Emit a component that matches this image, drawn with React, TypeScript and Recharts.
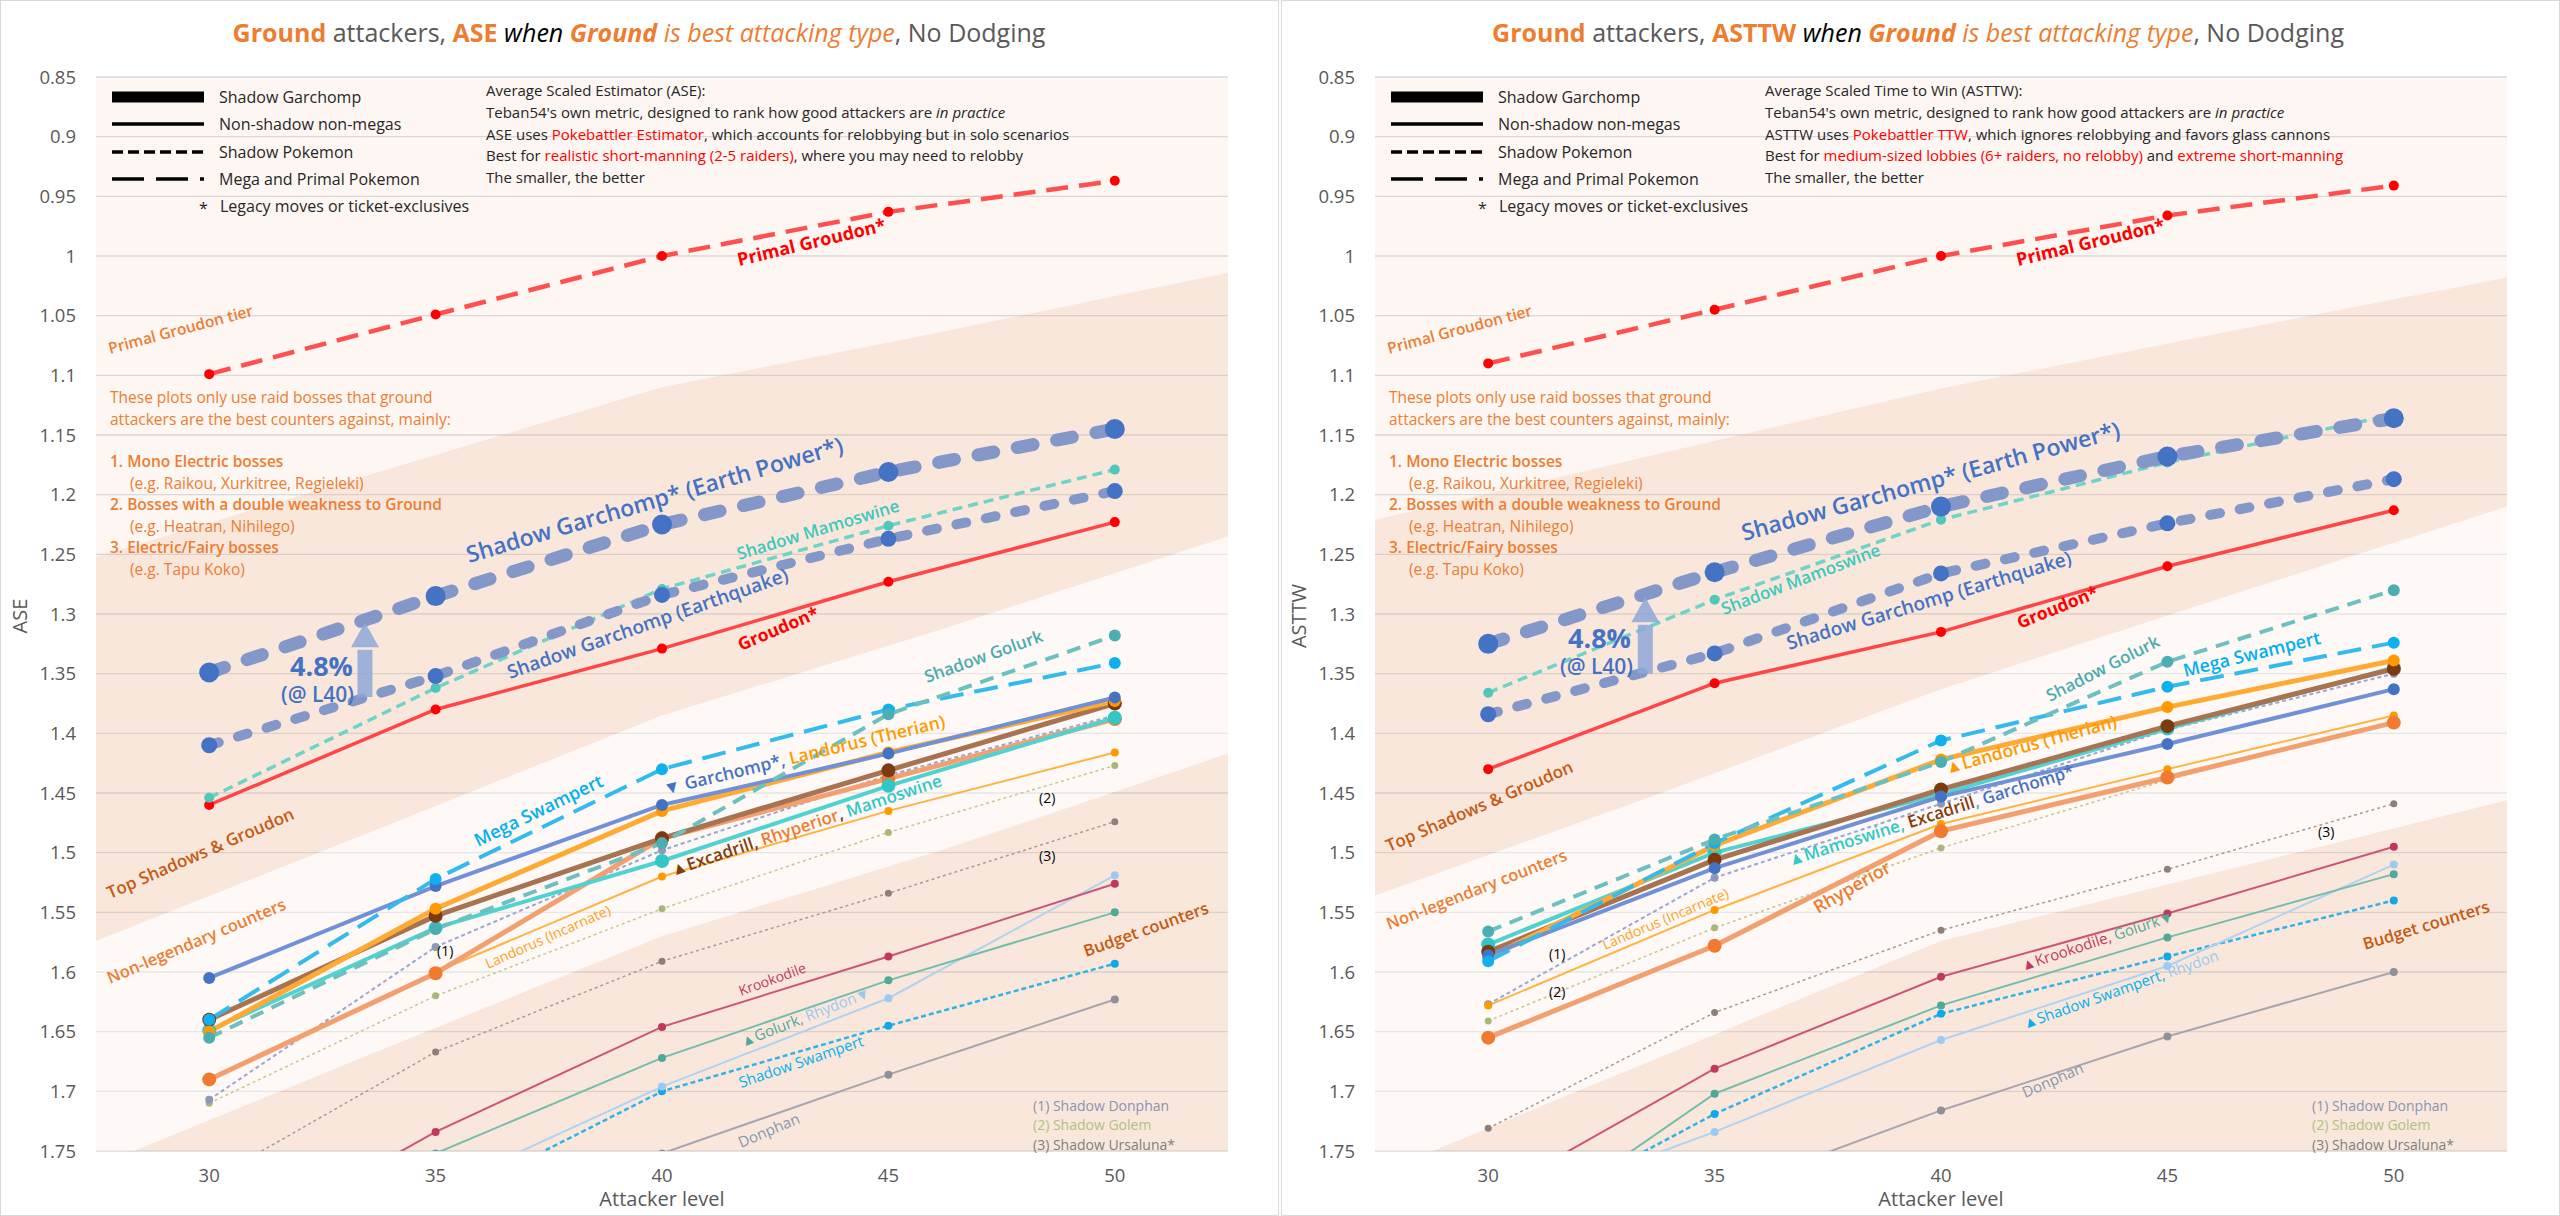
import React from 'react';
import {
  Area,
  CartesianGrid,
  ComposedChart,
  Line,
  ReferenceDot,
  ReferenceLine,
  XAxis,
  YAxis,
} from 'recharts';

const levels = [30, 35, 40, 45, 50];
const yTicks = [0.85, 0.9, 0.95, 1, 1.05, 1.1, 1.15, 1.2, 1.25, 1.3, 1.35, 1.4, 1.45, 1.5, 1.55, 1.6, 1.65, 1.7, 1.75];
// tier shading is drawn edge to edge of the plot
const bandLevels = [27.5, 33.75, 40, 46.25, 52.5];

// ASE (left chart)
const asePrimalGroudon = [1.099, 1.049, 1.0, 0.963, 0.937];
const aseSgEarthPower = [1.349, 1.285, 1.225, 1.181, 1.145];
const aseSgEarthquake = [1.41, 1.352, 1.284, 1.237, 1.197];
const aseShadowMamoswine = [1.454, 1.362, 1.279, 1.226, 1.179];
const aseGroudon = [1.46, 1.38, 1.329, 1.273, 1.223];
const aseShadowGolurk = [1.655, 1.564, 1.492, 1.384, 1.318];
const aseMegaSwampert = [1.64, 1.522, 1.43, 1.38, 1.341];
const aseGarchomp = [1.605, 1.528, 1.46, 1.417, 1.37];
const aseLandorusT = [1.65, 1.547, 1.465, 1.416, 1.373];
const aseExcadrill = [1.64, 1.553, 1.488, 1.431, 1.375];
const aseRhyperior = [1.69, 1.601, 1.488, 1.438, 1.388];
const aseMamoswine = [1.649, 1.563, 1.507, 1.444, 1.387];
const aseLandorusI = [1.691, 1.6, 1.52, 1.465, 1.416];
const aseShadowDonphan = [1.707, 1.579, 1.498, 1.435, 1.385];
const aseShadowGolem = [1.71, 1.62, 1.547, 1.483, 1.427];
const aseShadowUrsaluna = [1.775, 1.667, 1.591, 1.534, 1.474];
const aseKrookodile = [1.84, 1.734, 1.646, 1.587, 1.526];
const aseGolurk = [1.83, 1.752, 1.672, 1.607, 1.55];
const aseRhydon = [1.87, 1.783, 1.696, 1.622, 1.519];
const aseShadowSwampert = [1.89, 1.796, 1.7, 1.645, 1.593];
const aseDonphan = [1.91, 1.83, 1.752, 1.686, 1.623];
const aseTierTop = [1.252, 1.181, 1.11, 1.063, 1.014];
const aseTierMid = [1.574, 1.48, 1.385, 1.312, 1.235];
const aseTierLow = [1.763, 1.666, 1.57, 1.497, 1.417];

// ASTTW (right chart)
const asttwPrimalGroudon = [1.09, 1.045, 1.0, 0.966, 0.941];
const asttwSgEarthPower = [1.325, 1.265, 1.21, 1.168, 1.136];
const asttwSgEarthquake = [1.384, 1.333, 1.266, 1.224, 1.187];
const asttwShadowMamoswine = [1.366, 1.288, 1.221, 1.173, 1.133];
const asttwGroudon = [1.43, 1.358, 1.315, 1.26, 1.213];
const asttwShadowGolurk = [1.566, 1.489, 1.424, 1.34, 1.28];
const asttwMegaSwampert = [1.591, 1.492, 1.406, 1.361, 1.324];
const asttwGarchomp = [1.586, 1.513, 1.453, 1.409, 1.363];
const asttwLandorusT = [1.588, 1.494, 1.422, 1.378, 1.339];
const asttwExcadrill = [1.583, 1.506, 1.447, 1.394, 1.346];
const asttwRhyperior = [1.655, 1.578, 1.482, 1.437, 1.391];
const asttwMamoswine = [1.577, 1.5, 1.451, 1.396, 1.345];
const asttwLandorusI = [1.628, 1.548, 1.476, 1.43, 1.385];
const asttwShadowDonphan = [1.627, 1.521, 1.459, 1.397, 1.35];
const asttwShadowGolem = [1.641, 1.563, 1.496, 1.439, 1.39];
const asttwShadowUrsaluna = [1.731, 1.634, 1.565, 1.514, 1.459];
const asttwKrookodile = [1.788, 1.681, 1.604, 1.551, 1.495];
const asttwGolurk = [1.833, 1.702, 1.628, 1.571, 1.518];
const asttwRhydon = [1.804, 1.734, 1.657, 1.595, 1.51];
const asttwShadowSwampert = [1.82, 1.719, 1.635, 1.587, 1.54];
const asttwDonphan = [1.855, 1.786, 1.716, 1.654, 1.6];
const asttwTierTop = [1.221, 1.166, 1.111, 1.064, 1.018];
const asttwTierMid = [1.536, 1.451, 1.363, 1.286, 1.21];
const asttwTierLow = [1.77, 1.672, 1.574, 1.515, 1.456];

type Look = { stroke: string; dot: string; width: number; r: number; dash?: string; round?: boolean };

const LOOKS: Record<string, Look> = {
  donphan: { stroke: '#a6a6ae', dot: '#909098', width: 2, r: 4 },
  shadowSwampert: { stroke: '#2fb3ea', dot: '#10a8e8', width: 2.5, r: 4, dash: '5 3' },
  rhydon: { stroke: '#b0d2f2', dot: '#9ccaf2', width: 2, r: 4 },
  golurk: { stroke: '#74bdaa', dot: '#50a898', width: 2, r: 4 },
  krookodile: { stroke: '#cc5577', dot: '#c0385c', width: 2, r: 4 },
  shadowUrsaluna: { stroke: '#a89c92', dot: '#8c8078', width: 1.5, r: 3.5, dash: '3 3' },
  shadowGolem: { stroke: '#c5c88e', dot: '#a9b878', width: 1.5, r: 3.5, dash: '3 3' },
  shadowDonphan: { stroke: '#9aa6d4', dot: '#8c98b8', width: 2, r: 4, dash: '4 3' },
  landorusI: { stroke: '#ffb340', dot: '#ff9900', width: 2, r: 4 },
  rhyperior: { stroke: '#f3a070', dot: '#f07b30', width: 5, r: 7 },
  mamoswine: { stroke: '#50d2d0', dot: '#33c6c6', width: 4, r: 7 },
  excadrill: { stroke: '#a87350', dot: '#7b3a10', width: 5, r: 7 },
  landorusT: { stroke: '#ffaa33', dot: '#ff9900', width: 5, r: 6 },
  garchomp: { stroke: '#7090d8', dot: '#4472c4', width: 4, r: 6 },
  megaSwampert: { stroke: '#33bbee', dot: '#0fb0f0', width: 4, r: 6, dash: '24 11' },
  shadowGolurk: { stroke: '#6cc0c0', dot: '#4aaeb3', width: 4, r: 6, dash: '14 9' },
  groudon: { stroke: '#ff4545', dot: '#ff0000', width: 3.5, r: 5 },
  shadowMamoswine: { stroke: '#6fd3c6', dot: '#4fc8bb', width: 3.5, r: 5, dash: '10 6' },
  sgEarthquake: { stroke: '#8497c9', dot: '#4472c4', width: 10, r: 8, dash: '10 20', round: true },
  sgEarthPower: { stroke: '#8497c9', dot: '#4472c4', width: 13, r: 10, dash: '16 24', round: true },
  primalGroudon: { stroke: '#ff5050', dot: '#ff0000', width: 4.5, r: 5, dash: '22 11' },
};

const DRAW_ORDER = [
  'donphan', 'shadowSwampert', 'rhydon', 'golurk', 'krookodile', 'shadowUrsaluna', 'shadowGolem',
  'shadowDonphan', 'landorusI', 'rhyperior', 'mamoswine', 'excadrill', 'landorusT', 'garchomp',
  'megaSwampert', 'shadowGolurk', 'groudon', 'shadowMamoswine', 'sgEarthquake', 'sgEarthPower', 'primalGroudon',
];

const aseSeries: Record<string, number[]> = {
  primalGroudon: asePrimalGroudon, sgEarthPower: aseSgEarthPower, sgEarthquake: aseSgEarthquake,
  shadowMamoswine: aseShadowMamoswine, groudon: aseGroudon, shadowGolurk: aseShadowGolurk,
  megaSwampert: aseMegaSwampert, garchomp: aseGarchomp, landorusT: aseLandorusT, excadrill: aseExcadrill,
  rhyperior: aseRhyperior, mamoswine: aseMamoswine, landorusI: aseLandorusI, shadowDonphan: aseShadowDonphan,
  shadowGolem: aseShadowGolem, shadowUrsaluna: aseShadowUrsaluna, krookodile: aseKrookodile,
  golurk: aseGolurk, rhydon: aseRhydon, shadowSwampert: aseShadowSwampert, donphan: aseDonphan,
};

const asttwSeries: Record<string, number[]> = {
  primalGroudon: asttwPrimalGroudon, sgEarthPower: asttwSgEarthPower, sgEarthquake: asttwSgEarthquake,
  shadowMamoswine: asttwShadowMamoswine, groudon: asttwGroudon, shadowGolurk: asttwShadowGolurk,
  megaSwampert: asttwMegaSwampert, garchomp: asttwGarchomp, landorusT: asttwLandorusT, excadrill: asttwExcadrill,
  rhyperior: asttwRhyperior, mamoswine: asttwMamoswine, landorusI: asttwLandorusI, shadowDonphan: asttwShadowDonphan,
  shadowGolem: asttwShadowGolem, shadowUrsaluna: asttwShadowUrsaluna, krookodile: asttwKrookodile,
  golurk: asttwGolurk, rhydon: asttwRhydon, shadowSwampert: asttwShadowSwampert, donphan: asttwDonphan,
};

const FONT = "'Open Sans', 'Noto Sans', sans-serif";
const ORANGE = '#ed7d31';
const DARK_ORANGE = '#c55a11';
const BLUE = '#4472c4';

const W = 1278;
const H = 1214;

function Rot({ x, y, a, size, color, weight = 400, children }: any) {
  return (
    <text
      x={x}
      y={y}
      transform={`rotate(${a} ${x} ${y})`}
      fontSize={size}
      fill={color}
      fontWeight={weight}
      style={{ whiteSpace: 'pre' }}
    >
      {children}
    </text>
  );
}

function arrowHead(props: any) {
  const { cx, cy } = props;
  return <polygon points={`${cx},${cy} ${cx - 14},${cy + 25} ${cx + 14},${cy + 25}`} fill="#8ea6d8" fillOpacity={0.85} />;
}

function Legend() {
  return (
    <g>
      <line x1={112} x2={204} y1={97} y2={97} stroke="#000" strokeWidth={11} />
      <line x1={112} x2={204} y1={124} y2={124} stroke="#000" strokeWidth={3.5} />
      <line x1={112} x2={204} y1={152} y2={152} stroke="#000" strokeWidth={3.5} strokeDasharray="11 5" />
      <line x1={112} x2={204} y1={179} y2={179} stroke="#000" strokeWidth={3.5} strokeDasharray="32 12" />
      <g fontSize={16} fill="#262626">
        <text x={219} y={103}>Shadow Garchomp</text>
        <text x={219} y={130}>Non-shadow non-megas</text>
        <text x={219} y={158}>Shadow Pokemon</text>
        <text x={219} y={185}>Mega and Primal Pokemon</text>
        <text x={199} y={214}>*</text>
        <text x={220} y={212}>Legacy moves or ticket-exclusives</text>
      </g>
    </g>
  );
}

function BossNotes() {
  return (
    <g fontSize={15.5} fill={ORANGE}>
      <text x={110} y={403}>These plots only use raid bosses that ground</text>
      <text x={110} y={425}>attackers are the best counters against, mainly:</text>
      <text x={110} y={467} fontWeight={600}>1. Mono Electric bosses</text>
      <text x={130} y={489}>(e.g. Raikou, Xurkitree, Regieleki)</text>
      <text x={110} y={510} fontWeight={600}>2. Bosses with a double weakness to Ground</text>
      <text x={130} y={532}>(e.g. Heatran, Nihilego)</text>
      <text x={110} y={553} fontWeight={600}>3. Electric/Fairy bosses</text>
      <text x={130} y={575}>(e.g. Tapu Koko)</text>
    </g>
  );
}

function Footnotes() {
  return (
    <g fontSize={14}>
      <text x={1033} y={1111} fill="#8497b0">(1) Shadow Donphan</text>
      <text x={1033} y={1130} fill="#a9c47f">(2) Shadow Golem</text>
      <text x={1033} y={1150} fill="#7f7f7f">(3) Shadow Ursaluna*</text>
    </g>
  );
}

function Title({ metric }: { metric: string }) {
  return (
    <text x={639} y={42} textAnchor="middle" fontSize={25} style={{ whiteSpace: 'pre' }}>
      <tspan fill={ORANGE} fontWeight={700}>Ground</tspan>
      <tspan fill="#595959">{' attackers, '}</tspan>
      <tspan fill={ORANGE} fontWeight={700}>{metric}</tspan>
      <tspan fill="#000" fontStyle="italic">{' when '}</tspan>
      <tspan fill={ORANGE} fontStyle="italic" fontWeight={700}>Ground</tspan>
      <tspan fill={ORANGE} fontStyle="italic">{' is best attacking type'}</tspan>
      <tspan fill="#595959">{', No Dodging'}</tspan>
    </text>
  );
}

function AseAnnotations() {
  return (
    <g>
      <Title metric="ASE" />
      <g fontSize={15} fill="#262626" style={{ whiteSpace: 'pre' }}>
        <text x={486} y={96}>Average Scaled Estimator (ASE):</text>
        <text x={486} y={118}>
          Teban54's own metric, designed to rank how good attackers are <tspan fontStyle="italic">in practice</tspan>
        </text>
        <text x={486} y={140}>
          ASE uses <tspan fill="#ff0000">Pokebattler Estimator</tspan>, which accounts for relobbying but in solo scenarios
        </text>
        <text x={486} y={161}>
          Best for <tspan fill="#ff0000">realistic short-manning (2-5 raiders)</tspan>, where you may need to relobby
        </text>
        <text x={486} y={183}>The smaller, the better</text>
      </g>
      <Rot x={110} y={354} a={-15} size={15.5} color={ORANGE} weight={600}>Primal Groudon tier</Rot>
      <Rot x={110} y={899} a={-23.5} size={17} color={DARK_ORANGE} weight={600}>Top Shadows &amp; Groudon</Rot>
      <Rot x={110} y={984} a={-23} size={16.5} color={ORANGE} weight={600}>Non-legendary counters</Rot>
      <Rot x={1086} y={957} a={-19.7} size={16.5} color={DARK_ORANGE} weight={600}>Budget counters</Rot>
      <Rot x={739} y={266} a={-13.4} size={18} color="#ff0000" weight={700}>Primal Groudon*</Rot>
      <Rot x={469} y={563} a={-16.4} size={23} color={BLUE} weight={600}>Shadow Garchomp* (Earth Power*)</Rot>
      <Rot x={510} y={679} a={-19.4} size={19} color={BLUE} weight={600}>Shadow Garchomp (Earthquake)</Rot>
      <Rot x={739} y={560} a={-16.9} size={17} color="#3cc8bc" weight={600}>Shadow Mamoswine</Rot>
      <Rot x={741} y={651} a={-22.8} size={17.5} color="#ff0000" weight={700}>Groudon*</Rot>
      <Rot x={927} y={683} a={-19.7} size={17} color="#4aacb0" weight={600}>Shadow Golurk</Rot>
      <Rot x={478} y={847} a={-25.9} size={18} color="#00b0f0" weight={600}>Mega Swampert</Rot>
      <Rot x={665} y={795} a={-13.6} size={17.5} color={BLUE} weight={600}>
        ▼ Garchomp*, <tspan fill="#ff9900">Landorus (Therian)</tspan>
      </Rot>
      <Rot x={673} y={876} a={-18.5} size={17} color="#843c0c" weight={600}>
        ▲Excadrill, <tspan fill={ORANGE}>Rhyperior</tspan>, <tspan fill="#30c8c8">Mamoswine</tspan>
      </Rot>
      <Rot x={488} y={969} a={-24} size={14} color="#ffa020">Landorus (Incarnate)</Rot>
      <Rot x={741} y={996} a={-20} size={14} color="#c0385c">Krookodile</Rot>
      <Rot x={743} y={1047} a={-21.4} size={15} color="#50a898">
        ▲Golurk, <tspan fill="#9cc8f0">Rhydon▼</tspan>
      </Rot>
      <Rot x={741} y={1088} a={-19} size={15} color="#00b0f0">Shadow Swampert</Rot>
      <Rot x={741} y={1148} a={-23} size={15} color="#8497b0">Donphan</Rot>
      <g fontSize={14} fill="#000">
        <text x={437} y={956}>(1)</text>
        <text x={1039} y={803}>(2)</text>
        <text x={1039} y={861}>(3)</text>
      </g>
      <text x={290} y={676} fontSize={27} fontWeight={700} fill={BLUE}>4.8%</text>
      <text x={281} y={702} fontSize={21} fontWeight={600} fill={BLUE}>(@ L40)</text>
    </g>
  );
}

function AsttwAnnotations() {
  return (
    <g>
      <Title metric="ASTTW" />
      <g fontSize={15} fill="#262626" style={{ whiteSpace: 'pre' }}>
        <text x={486} y={96}>Average Scaled Time to Win (ASTTW):</text>
        <text x={486} y={118}>
          Teban54's own metric, designed to rank how good attackers are <tspan fontStyle="italic">in practice</tspan>
        </text>
        <text x={486} y={140}>
          ASTTW uses <tspan fill="#ff0000">Pokebattler TTW</tspan>, which ignores relobbying and favors glass cannons
        </text>
        <text x={486} y={161}>
          Best for <tspan fill="#ff0000">medium-sized lobbies (6+ raiders, no relobby)</tspan> and{' '}
          <tspan fill="#ff0000">extreme short-manning</tspan>
        </text>
        <text x={486} y={183}>The smaller, the better</text>
      </g>
      <Rot x={110} y={354} a={-15} size={15.5} color={ORANGE} weight={600}>Primal Groudon tier</Rot>
      <Rot x={110} y={852} a={-23.5} size={17} color={DARK_ORANGE} weight={600}>Top Shadows &amp; Groudon</Rot>
      <Rot x={110} y={930} a={-21.4} size={16.5} color={ORANGE} weight={600}>Non-legendary counters</Rot>
      <Rot x={1086} y={950} a={-17} size={16.5} color={DARK_ORANGE} weight={600}>Budget counters</Rot>
      <Rot x={739} y={266} a={-13.4} size={18} color="#ff0000" weight={700}>Primal Groudon*</Rot>
      <Rot x={465} y={541} a={-15.4} size={23} color={BLUE} weight={600}>Shadow Garchomp* (Earth Power*)</Rot>
      <Rot x={445} y={615} a={-20.9} size={17} color="#3cc8bc" weight={600}>Shadow Mamoswine</Rot>
      <Rot x={510} y={650} a={-16.9} size={19} color={BLUE} weight={600}>Shadow Garchomp (Earthquake)</Rot>
      <Rot x={741} y={629} a={-22} size={17.5} color="#ff0000" weight={700}>Groudon*</Rot>
      <Rot x={771} y={702} a={-27} size={17} color="#4aacb0" weight={600}>Shadow Golurk</Rot>
      <Rot x={906} y={677} a={-13.8} size={18} color="#00b0f0" weight={600}>Mega Swampert</Rot>
      <Rot x={668} y={774} a={-15.4} size={17.5} color="#ff9900" weight={600}>▲Landorus (Therian)</Rot>
      <Rot x={511} y={866} a={-17.5} size={17} color="#30c8c8" weight={600}>
        ▲Mamoswine, <tspan fill="#843c0c">Excadrill</tspan>, <tspan fill={BLUE}>Garchomp*</tspan>
      </Rot>
      <Rot x={539} y={914} a={-30} size={18} color={ORANGE} weight={600}>Rhyperior</Rot>
      <Rot x={326} y={950} a={-23} size={14} color="#ffa020">Landorus (Incarnate)</Rot>
      <Rot x={744} y={971} a={-18.3} size={15} color="#c0385c">
        ▲Krookodile, <tspan fill="#50a898">Golurk▼</tspan>
      </Rot>
      <Rot x={746} y={1029} a={-19.5} size={15} color="#00b0f0">
        ▲Shadow Swampert, <tspan fill="#9cc8f0">Rhydon</tspan>
      </Rot>
      <Rot x={746} y={1098} a={-23.5} size={15} color="#8497b0">Donphan</Rot>
      <g fontSize={14} fill="#000">
        <text x={270} y={959}>(1)</text>
        <text x={270} y={997}>(2)</text>
        <text x={1039} y={837}>(3)</text>
      </g>
      <text x={289} y={648} fontSize={27} fontWeight={700} fill={BLUE}>4.8%</text>
      <text x={281} y={674} fontSize={21} fontWeight={600} fill={BLUE}>(@ L40)</text>
    </g>
  );
}

type PanelProps = {
  left: number;
  series: Record<string, number[]>;
  tierTop: number[];
  tierMid: number[];
  tierLow: number[];
  axisName: string;
  arrow: { x: number; from: number; to: number; tip: number };
  notes: React.ReactNode;
};

function Panel({ left, series, tierTop, tierMid, tierLow, axisName, arrow, notes }: PanelProps) {
  const rows = (vals: number[]) => levels.map((x, i) => ({ x, y: vals[i] }));
  const band = (lo: number[], hi: number[]) => bandLevels.map((x, i) => ({ x, range: [lo[i], hi[i]] }));
  const bottom = bandLevels.map(() => 1.8);
  const tick = { fontSize: 18.5, fill: '#595959', fontFamily: FONT };

  return (
    <div style={{ position: 'absolute', left, top: 0, width: W, height: H }}>
      <ComposedChart width={W} height={H} margin={{ top: 77, right: 50, bottom: 13, left: 26 }}>
        <CartesianGrid vertical={false} stroke="#d9d9d9" strokeWidth={1.3} fill="#fdf6f2" fillOpacity={1} />
        <XAxis
          type="number"
          dataKey="x"
          domain={[27.5, 52.5]}
          ticks={levels}
          allowDataOverflow
          axisLine={false}
          tickLine={false}
          height={50}
          tickMargin={12}
          tick={tick}
        />
        <YAxis
          type="number"
          domain={[0.85, 1.75]}
          ticks={yTicks}
          reversed
          allowDataOverflow
          axisLine={false}
          tickLine={false}
          width={70}
          tickMargin={14}
          tick={tick}
        />
        <Area data={band(tierTop, tierMid)} dataKey="range" type="linear" stroke="none" fill="#f0a06e" fillOpacity={0.17} isAnimationActive={false} />
        <Area data={band(tierMid, tierLow)} dataKey="range" type="linear" stroke="none" fill="#ffffff" fillOpacity={0.35} isAnimationActive={false} />
        <Area data={band(tierLow, bottom)} dataKey="range" type="linear" stroke="none" fill="#f0a06e" fillOpacity={0.17} isAnimationActive={false} />
        {DRAW_ORDER.map((key) => {
          const look = LOOKS[key];
          return (
            <Line
              key={key}
              data={rows(series[key])}
              dataKey="y"
              type="linear"
              stroke={look.stroke}
              strokeWidth={look.width}
              strokeDasharray={look.dash}
              strokeLinecap={look.round ? 'round' : 'butt'}
              dot={{ r: look.r, fill: look.dot, stroke: 'none', strokeDasharray: 'none' }}
              activeDot={false}
              isAnimationActive={false}
            />
          );
        })}
        <ReferenceLine
          segment={[{ x: arrow.x, y: arrow.from }, { x: arrow.x, y: arrow.to }]}
          stroke="#8ea6d8"
          strokeOpacity={0.85}
          strokeWidth={15}
        />
        <ReferenceDot x={arrow.x} y={arrow.tip} r={1} shape={arrowHead} />
      </ComposedChart>
      <svg
        width={W}
        height={H}
        style={{ position: 'absolute', left: 0, top: 0, pointerEvents: 'none', fontFamily: FONT }}
      >
        <Legend />
        <BossNotes />
        <Footnotes />
        {notes}
        <text x={662} y={1206} textAnchor="middle" fontSize={20} fill="#595959">Attacker level</text>
        <text x={27} y={616} textAnchor="middle" fontSize={20} fill="#595959" transform="rotate(-90 27 616)">
          {axisName}
        </text>
      </svg>
    </div>
  );
}

export default function App() {
  return (
    <div style={{ position: 'absolute', left: 0, top: 0, width: 2560, height: 1216, background: '#ffffff', fontFamily: FONT }}>
      <div style={{ position: 'absolute', left: 0, top: 0, width: 1279, height: 1216, border: '1px solid #d9d9d9', boxSizing: 'border-box' }} />
      <div style={{ position: 'absolute', left: 1281, top: 0, width: 1279, height: 1216, border: '1px solid #d9d9d9', boxSizing: 'border-box' }} />
      <Panel
        left={0}
        series={aseSeries}
        tierTop={aseTierTop}
        tierMid={aseTierMid}
        tierLow={aseTierLow}
        axisName="ASE"
        arrow={{ x: 33.44, from: 1.3695, to: 1.33, tip: 1.307 }}
        notes={<AseAnnotations />}
      />
      <Panel
        left={1279}
        series={asttwSeries}
        tierTop={asttwTierTop}
        tierMid={asttwTierMid}
        tierLow={asttwTierLow}
        axisName="ASTTW"
        arrow={{ x: 33.47, from: 1.35, to: 1.309, tip: 1.286 }}
        notes={<AsttwAnnotations />}
      />
    </div>
  );
}
